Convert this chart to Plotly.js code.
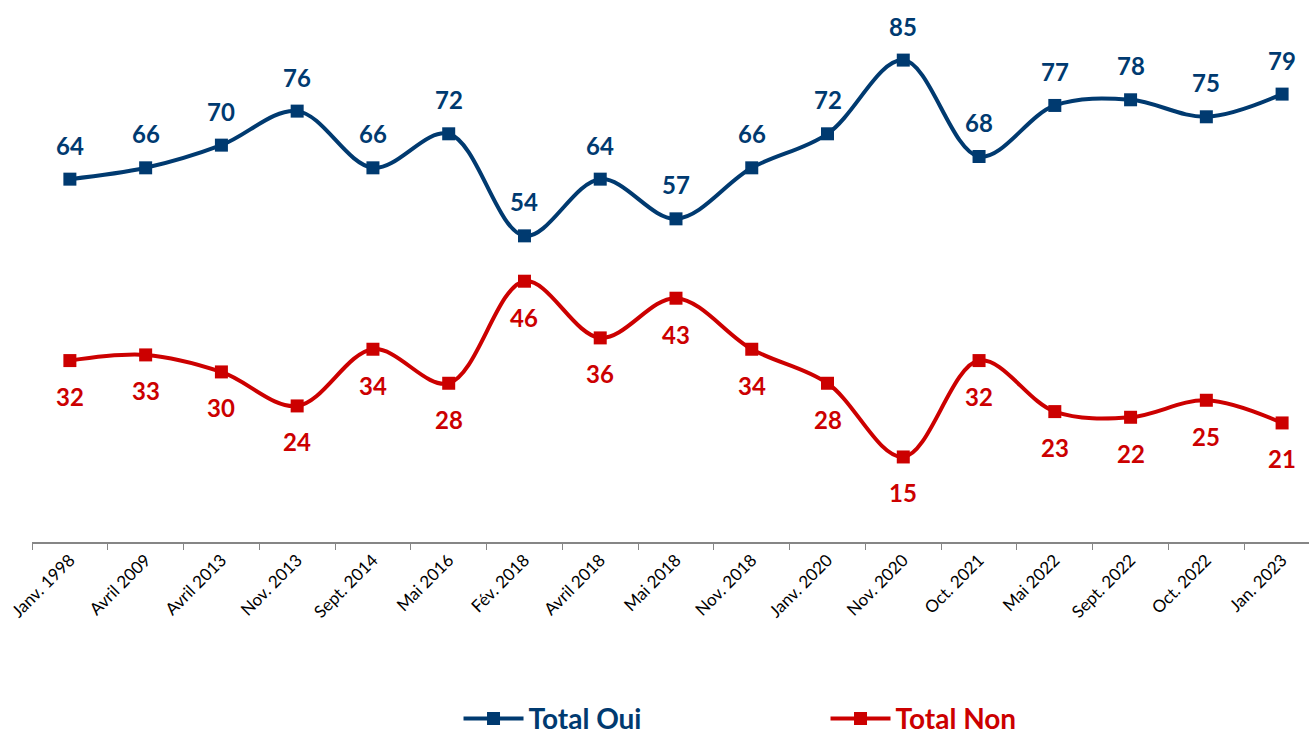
<!DOCTYPE html>
<html>
<head>
<meta charset="utf-8">
<script src="https://cdn.plot.ly/plotly-3.0.1.min.js"></script>
<style>html,body{margin:0;padding:0;background:#fff;}#chart{width:1309px;height:738px;}</style>
</head>
<body>
<div id="chart"></div>
<script>
const categories = ["Janv. 1998","Avril 2009","Avril 2013","Nov. 2013","Sept. 2014","Mai 2016","Fév. 2018","Avril 2018","Mai 2018","Nov. 2018","Janv. 2020","Nov. 2020","Oct. 2021","Mai 2022","Sept. 2022","Oct. 2022","Jan. 2023"];
const totalOui = [64,66,70,76,66,72,54,64,57,66,72,85,68,77,78,75,79];
const totalNon = [32,33,30,24,34,28,46,36,43,34,28,15,32,23,22,25,21];

const blue = "#003a70";
const red = "#cc0000";
const labelFont = "Lato, 'Open Sans', sans-serif";

const traces = [
  {x: categories, y: totalOui, type: "scatter", mode: "lines+markers",
   name: '<span style="color:' + blue + '">Total Oui</span>',
   line: {color: blue, width: 4, shape: "spline", smoothing: 1},
   marker: {symbol: "square", size: 13, color: blue}},
  {x: categories, y: totalNon, type: "scatter", mode: "lines+markers",
   name: '<span style="color:' + red + '">Total Non</span>',
   line: {color: red, width: 4, shape: "spline", smoothing: 1},
   marker: {symbol: "square", size: 13, color: red}}
];

const annotations = [];
categories.forEach((c, i) => {
  annotations.push({x: c, y: totalOui[i], xref: "x", yref: "y", text: "<b>" + totalOui[i] + "</b>",
    showarrow: false, yshift: 34, font: {family: labelFont, size: 24, color: blue}});
  annotations.push({x: c, y: totalNon[i], xref: "x", yref: "y", text: "<b>" + totalNon[i] + "</b>",
    showarrow: false, yshift: -36, font: {family: labelFont, size: 24, color: red}});
});

const layout = {
  width: 1309, height: 738,
  margin: {l: 32, r: 0, t: 0, b: 196},
  paper_bgcolor: "#fff", plot_bgcolor: "#fff",
  showlegend: true,
  legend: {orientation: "h", x: 0.334, xanchor: "left", yref: "container", y: 0.026, yanchor: "middle",
    font: {family: labelFont, size: 28, color: "#000", weight: "bold"},
    itemwidth: 60, entrywidth: 292, entrywidthmode: "pixels", bgcolor: "rgba(0,0,0,0)"},
  xaxis: {type: "category", range: [-0.5, 16.355], showgrid: false, zeroline: false,
    showline: true, linecolor: "#868686", linewidth: 1.5, automargin: false,
    ticks: "outside", tickson: "boundaries", ticklen: 6, tickcolor: "#868686", tickwidth: 1,
    tickangle: -45, tickfont: {family: labelFont, size: 17, color: "#000"}, fixedrange: true},
  yaxis: {range: [0, 95.6], visible: false, showgrid: false, zeroline: false, fixedrange: true},
  annotations: annotations
};

Plotly.newPlot("chart", traces, layout, {displayModeBar: false, staticPlot: true});
</script>
</body>
</html>
